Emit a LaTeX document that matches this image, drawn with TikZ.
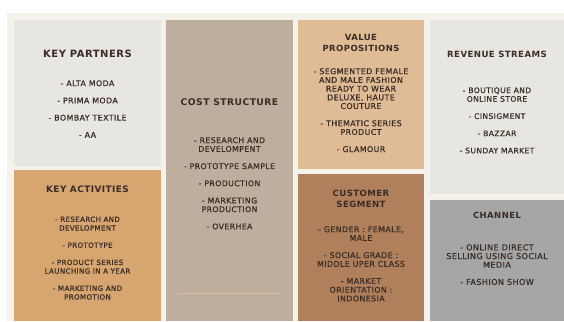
\documentclass[tikz,border=0pt]{standalone}
\usepackage{fontspec}
\setmainfont[LetterSpace=5]{DejaVu Sans}
\newfontfamily\itemfont[LetterSpace=5,FakeBold=0.7]{DejaVu Sans}
\definecolor{paper}{HTML}{F5F2EC}
\definecolor{greybox}{HTML}{E8E6E2}
\definecolor{tanbox}{HTML}{D7A570}
\definecolor{costbox}{HTML}{BDAE9E}
\definecolor{valuebox}{HTML}{DFBB96}
\definecolor{custbox}{HTML}{B07F5C}
\definecolor{chanbox}{HTML}{A6A6A6}
\definecolor{ink}{HTML}{3A2D26}
\tikzset{
  head/.style={font=\bfseries\fontsize{#1}{11}\selectfont,text=ink,align=center,inner sep=0pt},
  head/.default=10,
  items/.style={font=\itemfont\fontsize{#1}{8.7}\selectfont,text=ink,align=center,inner sep=0pt,anchor=north},
  items/.default=7.9,
}
\begin{document}
\begin{tikzpicture}[x=1pt,y=-1pt]
\useasboundingbox (0,0) rectangle (564,321);
\fill[white] (0,0) rectangle (564,321);
\fill[paper] (7,13) rectangle (564,321);
%%%% blocks
\fill[greybox]  (14,20)  rectangle (161,166);
\fill[tanbox]   (14,170) rectangle (161,321);
\fill[costbox]  (166,20) rectangle (293,321);
\fill[valuebox] (298,20) rectangle (424,169);
\fill[custbox]  (298,174) rectangle (424,321);
\fill[greybox]  (430,20) rectangle (564,194);
\fill[chanbox]  (430,200) rectangle (564,321);
\draw[valuebox,line width=0.6pt] (178,293)--(281,293);
%%%% key partners
\node[head] (kp) at (87.5,53.5) {KEY PARTNERS};
\node[items] (kpitems) at (87.5,80.1) {- ALTA MODA\\[8.5pt] - PRIMA MODA\\[8.5pt] - BOMBAY TEXTILE\\[8.5pt] - AA};
%%%% key activities
\node[head=8.9] (ka) at (87.5,189) {KEY ACTIVITIES};
\node[items=7.1] (kaitems) at (87.5,216.4) {- RESEARCH AND\\DEVELOPMENT\\[8.5pt] - PROTOTYPE\\[8.5pt] - PRODUCT SERIES\\LAUNCHING IN A YEAR\\[8.5pt] - MARKETING AND\\PROMOTION};
%%%% cost structure
\node[head=9.2] (cs) at (229.5,102) {COST STRUCTURE};
\node[items=7.8] (csitems) at (229.5,137.1) {- RESEARCH AND\\DEVELOMPENT\\[8.5pt] - PROTOTYPE SAMPLE\\[8.5pt] - PRODUCTION\\[8.5pt] - MARKETING\\PRODUCTION\\[8.5pt] - OVERHEA};
%%%% value propositions
\node[head=8.5] (vp) at (361,42.5) {VALUE\\PROPOSITIONS};
\node[items] (vpitems) at (361,68.1) {- SEGMENTED FEMALE\\AND MALE FASHION\\READY TO WEAR\\DELUXE, HAUTE\\COUTURE\\[8.5pt] - THEMATIC SERIES\\PRODUCT\\[8.5pt] - GLAMOUR};
%%%% customer segment
\node[head=8.6] (cu) at (361,199) {CUSTOMER\\SEGMENT};
\node[items] (cuitems) at (361,226.1) {- GENDER : FEMALE,\\MALE\\[8.5pt] - SOCIAL GRADE :\\MIDDLE UPER CLASS\\[8.5pt] - MARKET\\ORIENTATION :\\INDONESIA};
%%%% revenue streams
\node[head=8.6] (rs) at (497,54) {REVENUE STREAMS};
\node[items=7.6] (rsitems) at (497,87.2) {- BOUTIQUE AND\\ONLINE STORE\\[8.5pt] - CINSIGMENT\\[8.5pt] - BAZZAR\\[8.5pt] - SUNDAY MARKET};
%%%% channel
\node[head=8.5] (ch) at (497,215) {CHANNEL};
\node[items=8.1] (chitems) at (497,244.1) {- ONLINE DIRECT\\SELLING USING SOCIAL\\MEDIA\\[8.5pt] - FASHION SHOW};
\end{tikzpicture}
\end{document}
